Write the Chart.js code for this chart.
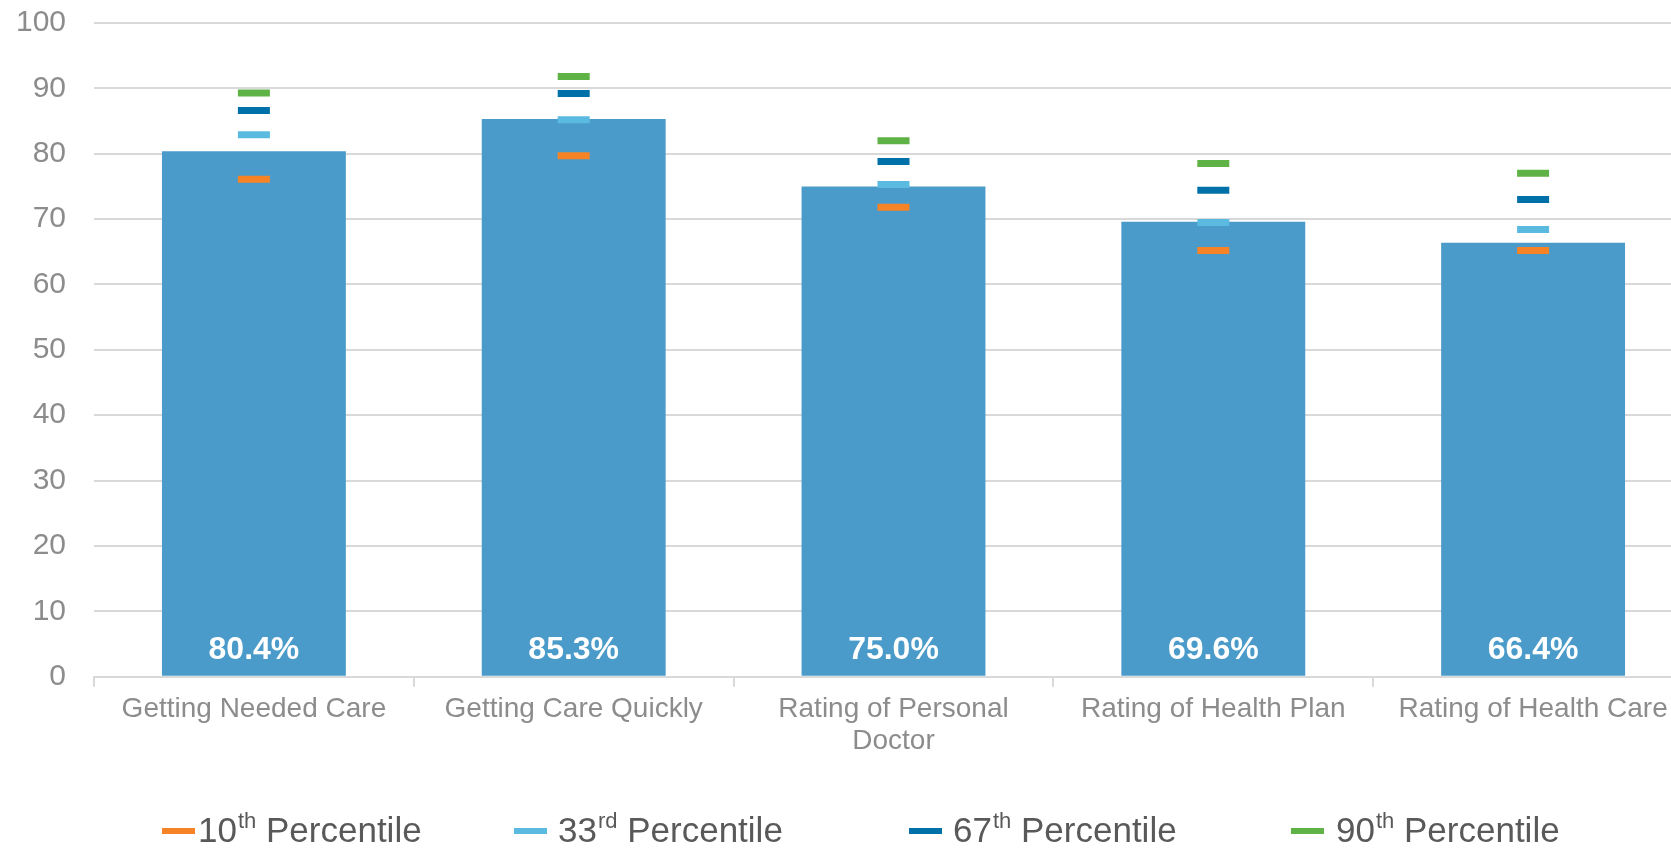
<!DOCTYPE html>
<html>
<head>
<meta charset="utf-8">
<title>CAHPS Composite Scores vs Percentiles</title>
<script src="https://cdn.jsdelivr.net/npm/chart.js@4/dist/chart.umd.min.js"></script>
<style>
  html, body { margin: 0; padding: 0; background: #ffffff; overflow: hidden; }
  #wrap { width: 1671px; height: 848px; overflow: hidden; }
  canvas { display: block; }
</style>
</head>
<body>
<div id="wrap"><canvas id="chart" width="1716" height="848"></canvas></div>
<script>
// Measures shown on the category axis
const categories = [
  'Getting Needed Care',
  'Getting Care Quickly',
  ['Rating of Personal', 'Doctor'],
  'Rating of Health Plan',
  'Rating of Health Care'
];

// Plan score for each measure (%)
const scores = [80.4, 85.3, 75.0, 69.6, 66.4];

// Benchmark percentiles for each measure
const p10 = [76.1, 79.7, 71.8, 65.2, 65.2];
const p33 = [82.9, 85.2, 75.3, 69.5, 68.4];
const p67 = [86.6, 89.2, 78.8, 74.4, 73.0];
const p90 = [89.3, 91.8, 82.0, 78.5, 77.0];

// Legend text: percentile number and its ordinal suffix
const percentileNumbers = ['10', '33', '67', '90'];
const percentileSuffixes = ['th', 'rd', 'th', 'th'];

const barColor = '#4A9BCA';
const markerColors = ['#F68426', '#5BBADF', '#0070A8', '#5FB246'];
const gridColor = '#D9D9D9';
const tickColor = '#8C8C8C';

function markerDataset(label, data, color) {
  return {
    type: 'line',
    label: label,
    data: data,
    showLine: false,
    pointStyle: 'line',
    pointRadius: 16,
    pointHoverRadius: 16,
    pointBorderWidth: 7,
    pointHoverBorderWidth: 7,
    borderColor: color,
    backgroundColor: color,
    order: 1
  };
}

// Writes each score as a percentage near the foot of its bar
const valueLabels = {
  id: 'valueLabels',
  afterDatasetsDraw(chart) {
    const ctx = chart.ctx;
    const meta = chart.getDatasetMeta(0);
    const base = chart.scales.y.getPixelForValue(0);
    ctx.save();
    ctx.fillStyle = '#FFFFFF';
    ctx.font = 'bold 32px "Liberation Sans", Arial, sans-serif';
    ctx.textAlign = 'center';
    ctx.textBaseline = 'middle';
    meta.data.forEach((bar, i) => {
      ctx.fillText(scores[i].toFixed(1) + '%', bar.x, base - 27);
    });
    ctx.restore();
  }
};

// Legend row with superscript ordinals
const percentileLegend = {
  id: 'percentileLegend',
  afterDraw(chart) {
    const ctx = chart.ctx;
    const swatchStarts = [162, 514, 909, 1291];
    const textGaps = [3, 11, 11, 12];
    const baseline = 842;
    ctx.save();
    ctx.textBaseline = 'alphabetic';
    ctx.textAlign = 'left';
    percentileNumbers.forEach((num, i) => {
      const sx = swatchStarts[i];
      ctx.fillStyle = markerColors[i];
      ctx.fillRect(sx, 828, 33, 6);
      let x = sx + 33 + textGaps[i];
      ctx.fillStyle = '#595959';
      ctx.font = '35px "Liberation Sans", Arial, sans-serif';
      ctx.fillText(num, x, baseline);
      x += ctx.measureText(num).width;
      ctx.font = '22px "Liberation Sans", Arial, sans-serif';
      ctx.fillText(percentileSuffixes[i], x + 1, baseline - 14);
      x += ctx.measureText(percentileSuffixes[i]).width + 1;
      ctx.font = '35px "Liberation Sans", Arial, sans-serif';
      ctx.fillText(' Percentile', x, baseline);
    });
    ctx.restore();
  }
};

new Chart(document.getElementById('chart'), {
  type: 'bar',
  data: {
    labels: categories,
    datasets: [
      {
        label: 'Score',
        data: scores,
        backgroundColor: barColor,
        borderWidth: 0,
        categoryPercentage: 1.0,
        barPercentage: 0.575,
        order: 2
      },
      markerDataset('10th Percentile', p10, markerColors[0]),
      markerDataset('33rd Percentile', p33, markerColors[1]),
      markerDataset('67th Percentile', p67, markerColors[2]),
      markerDataset('90th Percentile', p90, markerColors[3])
    ]
  },
  options: {
    responsive: false,
    animation: false,
    events: [],
    layout: { padding: { top: 21.3, right: 6, bottom: 0, left: 0 } },
    plugins: {
      legend: { display: false },
      tooltip: { enabled: false },
      title: { display: false }
    },
    scales: {
      x: {
        offset: true,
        grid: {
          display: true,
          offset: true,
          drawOnChartArea: false,
          drawTicks: true,
          tickLength: 10,
          color: gridColor,
          lineWidth: 2
        },
        border: { display: true, color: gridColor, width: 2 },
        ticks: {
          color: tickColor,
          font: { family: '"Liberation Sans", Arial, sans-serif', size: 28, lineHeight: 1.15 },
          padding: 6,
          maxRotation: 0,
          autoSkip: false
        },
        afterFit(scale) {
          scale.height = 171.3;
          scale.paddingLeft = 0;
          scale.paddingRight = 0;
        }
      },
      y: {
        min: 0,
        max: 100,
        ticks: {
          stepSize: 10,
          color: tickColor,
          font: { family: '"Liberation Sans", Arial, sans-serif', size: 30 },
          padding: 28
        },
        grid: {
          color: gridColor,
          lineWidth: 2,
          drawTicks: false
        },
        border: { display: false },
        afterFit(scale) {
          scale.width = 94;
          scale.paddingTop = 0;
          scale.paddingBottom = 0;
        }
      }
    }
  },
  plugins: [valueLabels, percentileLegend]
});
</script>
</body>
</html>
